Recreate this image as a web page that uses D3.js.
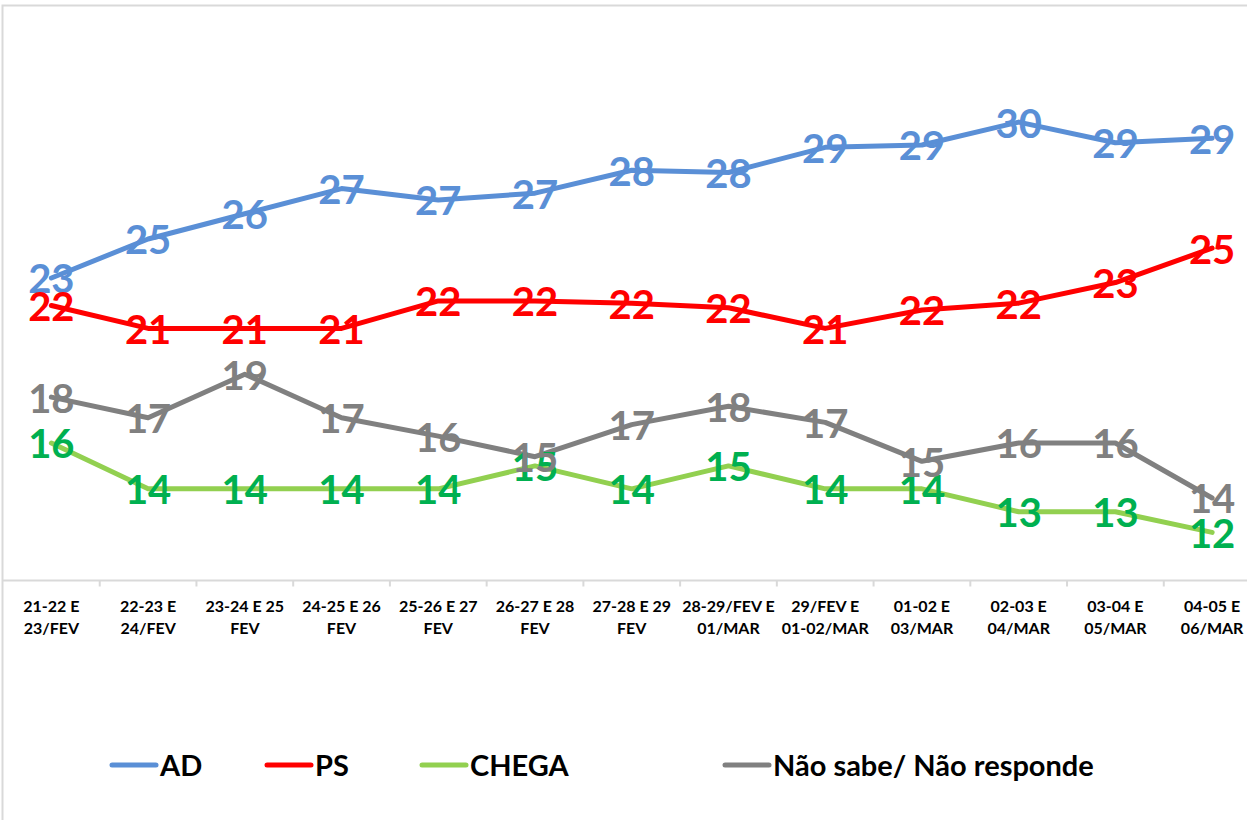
<!DOCTYPE html>
<html>
<head>
<meta charset="utf-8">
<script src="https://cdn.jsdelivr.net/npm/d3@7"></script>
<style>
  html, body { margin: 0; padding: 0; background: #fff; }
  svg { display: block; }
</style>
</head>
<body>
<svg id="chart" width="1247" height="820"></svg>
<script>
// ---- data ----
const categories = [
  ["21-22 E", "23/FEV"],
  ["22-23 E", "24/FEV"],
  ["23-24 E 25", "FEV"],
  ["24-25 E 26", "FEV"],
  ["25-26 E 27", "FEV"],
  ["26-27 E 28", "FEV"],
  ["27-28 E 29", "FEV"],
  ["28-29/FEV E", "01/MAR"],
  ["29/FEV E", "01-02/MAR"],
  ["01-02 E", "03/MAR"],
  ["02-03 E", "04/MAR"],
  ["03-04 E", "05/MAR"],
  ["04-05 E", "06/MAR"]
];
const adValues     = [23.2, 24.9, 26.0, 27.1, 26.6, 26.9, 27.9, 27.8, 28.9, 29.0, 30.0, 29.1, 29.3];
const psValues     = [22.0, 21.0, 21.0, 21.0, 22.2, 22.2, 22.1, 21.9, 21.0, 21.8, 22.1, 23.0, 24.5];
const chegaValues  = [16.0, 14.0, 14.0, 14.0, 14.0, 15.0, 14.0, 15.0, 14.0, 14.0, 13.0, 13.0, 12.1];
const nsnrValues   = [18.0, 17.1, 19.0, 17.1, 16.3, 15.4, 16.8, 17.6, 16.9, 15.2, 16.0, 16.0, 13.6];
const seriesNames  = ["AD", "PS", "CHEGA", "Não sabe/ Não responde"];
const yDomain = [10, 35];

// ---- styles / layout ----
const lineColors  = ["#5A8FD6", "#FF0000", "#92D050", "#808080"];
const labelColors = ["#5A8FD6", "#FF0000", "#00B050", "#808080"];
const legendStarts = [110, 265, 420, 723];
const FONT = "Lato, 'Open Sans', sans-serif";

const series = [adValues, psValues, chegaValues, nsnrValues].map((vals, i) => ({
  name: seriesNames[i], values: vals, line: lineColors[i], label: labelColors[i]
}));

const svg = d3.select("#chart");

// chart frame
svg.append("rect")
  .attr("x", 2.5).attr("y", 5.5)
  .attr("width", 1300).attr("height", 900)
  .attr("fill", "#fff").attr("stroke", "#D9D9D9").attr("stroke-width", 2);

const plotLeft = 3, plotRight = 1260.5, plotTop = 7.5, plotBottom = 580.5;

const x = d3.scaleBand()
  .domain(categories.map((c, i) => i))
  .range([plotLeft, plotRight])
  .paddingInner(0).paddingOuter(0);
const cx = i => x(i) + x.bandwidth() / 2;

const y = d3.scaleLinear().domain(yDomain).range([plotBottom, plotTop]);

// x axis
const xAxis = d3.axisBottom(x).tickSize(0).tickFormat("");
const gx = svg.append("g").attr("transform", `translate(0,${plotBottom})`).call(xAxis);
gx.select(".domain").attr("stroke", "#D9D9D9").attr("stroke-width", 2)
  .attr("d", `M${plotLeft},0H${plotRight}`);
// tick marks at band boundaries
gx.selectAll("line.bound")
  .data(d3.range(1, categories.length))
  .enter().append("line")
  .attr("class", "bound")
  .attr("x1", i => x(i)).attr("x2", i => x(i))
  .attr("y1", 0).attr("y2", 6)
  .attr("stroke", "#D9D9D9").attr("stroke-width", 2);

// category labels
const catG = svg.append("g");
categories.forEach((c, i) => {
  const t = catG.append("text")
    .attr("x", cx(i)).attr("y", 612)
    .attr("text-anchor", "middle")
    .attr("font-family", FONT).attr("font-weight", "bold")
    .attr("font-size", 16).attr("fill", "#000");
  c.forEach((ln, k) => {
    t.append("tspan").attr("x", cx(i)).attr("dy", k === 0 ? 0 : 22).text(ln);
  });
});

// lines
const lineGen = d3.line().x((d, i) => cx(i)).y(d => y(d));
svg.append("g").selectAll("path")
  .data(series).enter().append("path")
  .attr("d", s => lineGen(s.values))
  .attr("fill", "none")
  .attr("stroke", s => s.line)
  .attr("stroke-width", 5)
  .attr("stroke-linejoin", "round")
  .attr("stroke-linecap", "round");

// data labels
const LFS = 40;
series.forEach(s => {
  svg.append("g").selectAll("text")
    .data(s.values).enter().append("text")
    .attr("x", (d, i) => cx(i))
    .attr("y", d => y(d) + LFS * 0.36 + 1)
    .attr("text-anchor", "middle")
    .attr("font-family", FONT).attr("font-weight", "bold")
    .attr("font-size", LFS)
    .attr("fill", s.label)
    .text(d => Math.round(d));
});

// legend
const legY = 765;
const leg = svg.append("g");
series.forEach((s, i) => {
  const x0 = legendStarts[i];
  leg.append("line")
    .attr("x1", x0 + 2).attr("x2", x0 + 46)
    .attr("y1", legY).attr("y2", legY)
    .attr("stroke", s.line).attr("stroke-width", 5)
    .attr("stroke-linecap", "round");
  leg.append("text")
    .attr("x", x0 + 50).attr("y", legY + 11)
    .attr("font-family", FONT).attr("font-weight", "bold")
    .attr("font-size", 29).attr("fill", "#000")
    .text(s.name);
});
</script>
</body>
</html>
